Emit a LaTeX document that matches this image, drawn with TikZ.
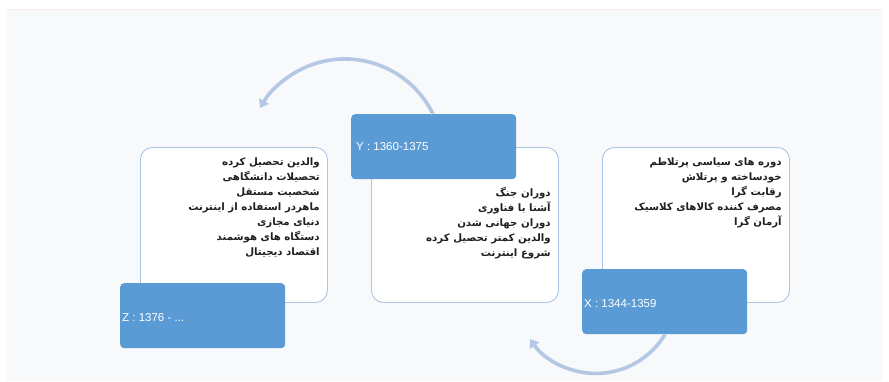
\documentclass[tikz,border=0pt]{standalone}
\usepackage{fontspec}
\setmainfont{Liberation Sans}
\newfontfamily\arabicfont[Script=Arabic]{DejaVu Sans}
\TeXXeTstate=1
\usetikzlibrary{arrows.meta}
\definecolor{bgg}{HTML}{F8F9FA}
\definecolor{topl}{HTML}{FBEDED}
\definecolor{boxb}{HTML}{5B9BD5}
\definecolor{edgeb}{HTML}{A9C7E6}
\definecolor{arrb}{HTML}{B4C8E6}
\newcommand{\rtl}[1]{\beginR #1\endR}
\tikzset{
  contentbox/.style={draw=edgeb, line width=0.9pt, fill=white, rounded corners=12pt,
    minimum width=187pt, minimum height=155pt, anchor=north west, inner sep=0pt},
  labelbox/.style={fill=boxb, rounded corners=4pt, minimum width=165pt,
    minimum height=65pt, anchor=north west, inner sep=0pt},
  labeltext/.style={text=white, font=\fontsize{11.5}{13}\selectfont, anchor=west, inner sep=0pt},
  listtext/.style={font=\arabicfont\bfseries\fontsize{10.2}{15}\selectfont, align=right,
    anchor=north east, inner sep=0pt, text=black!88},
  cyclearrow/.style={draw=arrb, line width=3.6pt, -{Triangle[length=8pt,width=11pt]}}
}
\begin{document}
\begin{tikzpicture}[x=1pt,y=1pt]
\useasboundingbox (0,0) rectangle (889,381);
\fill[white] (0,0) rectangle (889,381);
\fill[bgg] (7,0) rectangle (882,372);
\draw[topl, line width=0.8pt] (7,372) -- (882,372);
% content boxes
\node[contentbox] (zc) at (140,234) {};
\node[contentbox] (yc) at (371,234) {};
\node[contentbox] (xc) at (602,234) {};
% texts
\node[listtext] (zt) at ([xshift=-8pt,yshift=-11pt]zc.north east) {%
\rtl{والدین تحصیل کرده}\\
\rtl{تحصیلات دانشگاهی}\\
\rtl{شخصیت مستقل}\\
\rtl{ماهردر استفاده از اینترنت}\\
\rtl{دنیای مجازی}\\
\rtl{دستگاه های هوشمند}\\
\rtl{اقتصاد دیجیتال}};
\node[listtext] (yt) at ([xshift=-8pt,yshift=-40pt]yc.north east) {%
\rtl{دوران جنگ}\\
\rtl{آشنا با فناوری}\\
\rtl{دوران جهانی شدن}\\
\rtl{والدین کمتر تحصیل کرده}\\
\rtl{شروع اینترنت}};
\node[listtext] (xt) at ([xshift=-8pt,yshift=-11pt]xc.north east) {%
\rtl{دوره های سیاسی پرتلاطم}\\
\rtl{خودساخته و پرتلاش}\\
\rtl{رقابت گرا}\\
\rtl{مصرف کننده کالاهای کلاسیک}\\
\rtl{آرمان گرا}};
% label boxes
\node[labelbox] (zl) at (120,98) {};
\node[labelbox] (yl) at (351,267) {};
\node[labelbox] (xl) at (582,112) {};
\node[labeltext] (zlt) at ([xshift=2pt,yshift=-2pt]zl.west) {Z : 1376 - ...};
\node[labeltext] (ylt) at ([xshift=5pt]yl.west) {Y : 1360-1375};
\node[labeltext] (xlt) at ([xshift=2pt,yshift=-2pt]xl.west) {X : 1344-1359};
% arrows
\coordinate (a1) at ([xshift=82pt]yl.north west);
\draw[cyclearrow] (a1) arc[start angle=26, end angle=150, radius=98];
\coordinate (a2) at ([xshift=83pt]xl.south west);
\draw[cyclearrow] (a2) arc[start angle=-31, end angle=-145, radius=80.5];
\end{tikzpicture}
\end{document}
